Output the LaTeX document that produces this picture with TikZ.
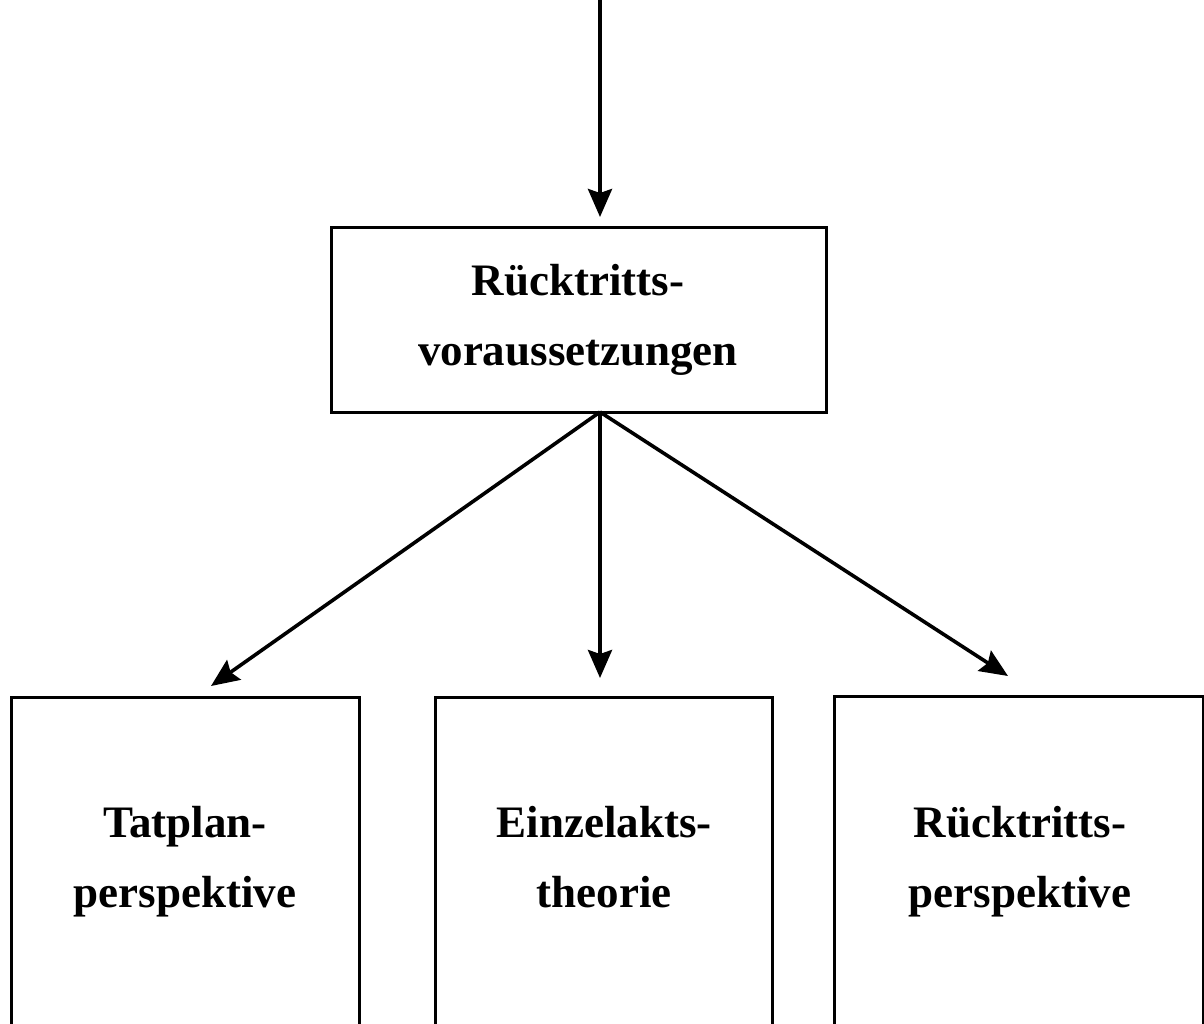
\documentclass[tikz,border=0pt]{standalone}
\usepackage{fontspec}
\setmainfont{Liberation Serif}
\usetikzlibrary{arrows.meta}
\begin{document}
\begin{tikzpicture}[x=0.5pt,y=-0.5pt,
  boxstyle/.style={draw,line width=1.5pt,inner sep=0pt,rectangle},
  labelstyle/.style={align=center,inner sep=0pt,font=\fontsize{22.5}{35}\selectfont\bfseries},
  arrowstyle/.style={line width=1.8pt,-{Stealth[length=14pt,width=12pt,inset=2pt]}}]
\useasboundingbox (0,0) rectangle (1204,1023);
\clip (0,0) rectangle (1204,1023);
% top box
\node[boxstyle,minimum width=247.5pt,minimum height=92.5pt] (top) at (578.5,319.5) {};
\node[labelstyle] (toptext) at (578,320) {Rücktritts-\\voraussetzungen};
% bottom boxes
\node[boxstyle,minimum width=174pt,minimum height=201.5pt] (b1) at (185,898.5) {};
\node[boxstyle,minimum width=168.5pt,minimum height=201.5pt] (b2) at (603.5,898.5) {};
\node[boxstyle,minimum width=184.5pt,minimum height=202pt] (b3) at (1018.5,898) {};
\node[labelstyle] (t1) at (185,862) {Tatplan-\\perspektive};
\node[labelstyle] (t2) at (604,857) {Einzelakts-\\theorie};
\node[labelstyle] (t3) at (1020,862) {Rücktritts-\\perspektive};
% connectors
\coordinate (start) at (600,0);
\coordinate (src) at (600,412);
\coordinate (tip0) at (600,217);
\coordinate (tip1) at (211,686);
\coordinate (tip2) at (600,678);
\coordinate (tip3) at (1008,676);
\draw[arrowstyle,line width=2pt] (start) -- (tip0);
\draw[arrowstyle] (src) -- (tip1);
\draw[arrowstyle,line width=2pt] (src) -- (tip2);
\draw[arrowstyle] (src) -- (tip3);
\end{tikzpicture}
\end{document}
